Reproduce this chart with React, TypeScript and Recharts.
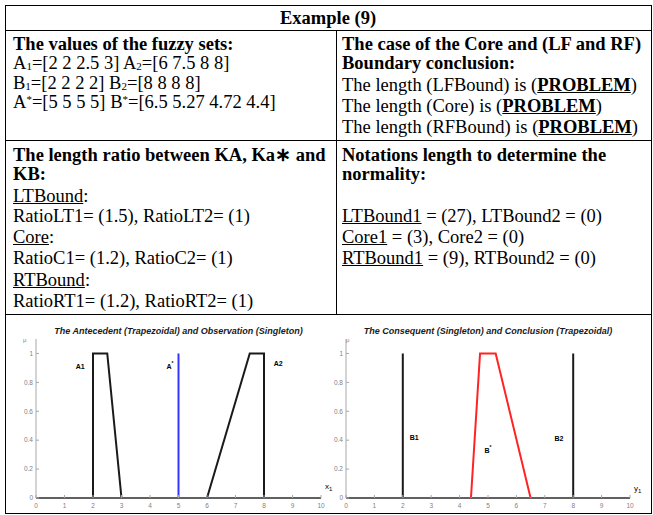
import { LineChart, Line, XAxis, YAxis, ReferenceDot } from 'recharts';

const xTicks = [0, 1, 2, 3, 4, 5, 6, 7, 8, 9, 10];
const muTicks = [0, 0.2, 0.4, 0.6, 0.8, 1];

// antecedent sets (x, membership)
const a1X = [0, 2, 2, 2.5, 3, 10];
const a1Mu = [0, 0, 1, 1, 0, 0];
const a2X = [0, 6, 7.5, 8, 8, 10];
const a2Mu = [0, 0, 1, 1, 0, 0];
const aStarX = [5, 5];
const aStarMu = [0, 1];

// consequent sets
const b1X = [0, 2, 2, 2, 10];
const b1Mu = [0, 0, 1, 0, 0];
const b2X = [0, 8, 8, 8, 10];
const b2Mu = [0, 0, 1, 0, 0];
const bStarX = [4.4, 4.72, 5.27, 6.5];
const bStarMu = [0, 1, 1, 0];

// set names: [name, mark, x, mu]
const leftNames: [string, string, number, number][] = [
  ['A1', '', 1.55, 0.91],
  ['A', '*', 4.7, 0.91],
  ['A2', '', 8.5, 0.93],
];
const rightNames: [string, string, number, number][] = [
  ['B1', '', 2.4, 0.42],
  ['B', '*', 5.0, 0.33],
  ['B2', '', 7.5, 0.41],
];

const pts = (xs: number[], ys: number[]) => xs.map((x, i) => ({ x, mu: ys[i] }));

const serif = '"Liberation Serif", "Times New Roman", serif';
const sans = '"Liberation Sans", Arial, sans-serif';
const axisGray = '#a8a8a8';
const tickStyle = { fill: '#7f7f7f', fontSize: 6.5, fontFamily: sans };

function SetName({ viewBox, name, mark }: any) {
  const { x, y } = viewBox;
  return (
    <text x={x} y={y} textAnchor="middle" dominantBaseline="central" fontFamily={sans} fontWeight="bold" fontSize={7} fill="#000">
      {name}
      {mark ? <tspan dy={-3} fontSize={5}>{mark}</tspan> : null}
    </text>
  );
}

function FuzzyChart({ width, yWidth, right, series, names }: any) {
  return (
    <LineChart width={width} height={199} margin={{ top: 25, right, bottom: 0, left: 0 }}>
      <XAxis xAxisId="b" type="number" dataKey="x" domain={[0, 10]} ticks={xTicks} interval={0} height={15}
        tickSize={-3} tickMargin={8} stroke={axisGray} tick={tickStyle} />
      <XAxis xAxisId="t" orientation="top" type="number" dataKey="x" domain={[0, 10]} ticks={xTicks} interval={0}
        height={0} tickSize={-3} tick={false} stroke={axisGray} />
      <YAxis yAxisId="l" type="number" domain={[0, 1.1]} ticks={muTicks} interval={0} width={yWidth}
        tickSize={-3} tickMargin={6} stroke={axisGray} tick={tickStyle} />
      <YAxis yAxisId="r" orientation="right" type="number" domain={[0, 1.1]} ticks={muTicks} interval={0} width={0}
        tickSize={-3} tick={false} stroke={axisGray} />
      {series.map((s: any, i: number) => (
        <Line key={i} xAxisId="b" yAxisId="l" data={s.data} dataKey="mu" type="linear" stroke={s.color}
          strokeWidth={2} dot={false} isAnimationActive={false} />
      ))}
      {names.map(([name, mark, x, mu]: any) => (
        <ReferenceDot key={name + mark} xAxisId="b" yAxisId="l" x={x} y={mu} r={0} fill="none" stroke="none"
          label={{ content: (p: any) => <SetName {...p} name={name} mark={mark} /> }} />
      ))}
    </LineChart>
  );
}

const abs = (style: any) => ({ position: 'absolute' as const, ...style });
const sub = { fontSize: 11, verticalAlign: '-1px', lineHeight: 0 };
const sup = { fontSize: 11, verticalAlign: '5px', lineHeight: 0 };
const u = { textDecoration: 'underline' };
const bu = { fontWeight: 'bold', textDecoration: 'underline' };

function Row({ left, top, bold, children }: any) {
  return (
    <div style={abs({ left, top, height: 20, whiteSpace: 'nowrap', fontWeight: bold ? 'bold' : 'normal' })}>{children}</div>
  );
}

export default function App() {
  return (
    <div style={abs({ left: 0, top: 0, width: 653, height: 515, background: '#fff', fontFamily: serif, fontSize: 18.5, lineHeight: '20px', color: '#000' })}>
      {/* charts */}
      <div style={abs({ left: 5, top: 314 })}>
        <FuzzyChart width={331} yWidth={31} right={15} names={leftNames}
          series={[
            { data: pts(a1X, a1Mu), color: '#1a1a1a' },
            { data: pts(a2X, a2Mu), color: '#1a1a1a' },
            { data: pts(aStarX, aStarMu), color: '#3434ff' },
          ]} />
      </div>
      <div style={abs({ left: 326, top: 314 })}>
        <FuzzyChart width={325} yWidth={20} right={21} names={rightNames}
          series={[
            { data: pts(b1X, b1Mu), color: '#1a1a1a' },
            { data: pts(b2X, b2Mu), color: '#1a1a1a' },
            { data: pts(bStarX, bStarMu), color: '#ff2424' },
          ]} />
      </div>
      <div style={abs({ left: 36, width: 285, top: 326, textAlign: 'center', font: 'italic bold 9px ' + sans, lineHeight: '11px', color: '#1a1a1a', whiteSpace: 'nowrap' })}>
        The Antecedent (Trapezoidal) and Observation (Singleton)
      </div>
      <div style={abs({ left: 346, width: 284, top: 326, textAlign: 'center', font: 'italic bold 9px ' + sans, lineHeight: '11px', color: '#1a1a1a', whiteSpace: 'nowrap' })}>
        The Consequent (Singleton) and Conclusion (Trapezoidal)
      </div>
      <div style={abs({ left: 23, top: 336, font: '6px ' + sans, lineHeight: '8px', color: '#7f7f7f' })}>μ</div>
      <div style={abs({ left: 346, top: 336, font: '6px ' + sans, lineHeight: '8px', color: '#7f7f7f' })}>μ</div>
      <div style={abs({ left: 325, top: 482, font: '8px ' + sans, lineHeight: '10px', color: '#000' })}>x<span style={{ fontSize: 6, verticalAlign: '-2px' }}>1</span></div>
      <div style={abs({ left: 634, top: 484, font: '8px ' + sans, lineHeight: '10px', color: '#000' })}>y<span style={{ fontSize: 6, verticalAlign: '-2px' }}>1</span></div>

      {/* table text */}
      <div style={abs({ left: 5, top: 8, width: 646, textAlign: 'center', fontWeight: 'bold' })}>Example (9)</div>

      <Row left={13} top={34} bold>The values of the fuzzy sets:</Row>
      <Row left={13} top={53}>A<span style={sub}>1</span>=[2 2 2.5 3] A<span style={sub}>2</span>=[6 7.5 8 8]</Row>
      <Row left={13} top={73}>B<span style={sub}>1</span>=[2 2 2 2] B<span style={sub}>2</span>=[8 8 8 8]</Row>
      <Row left={13} top={92}>A<span style={sup}>*</span>=[5 5 5 5] B<span style={sup}>*</span>=[6.5 5.27 4.72 4.4]</Row>

      <Row left={342} top={34} bold>The case of the Core and (LF and RF)</Row>
      <Row left={342} top={53} bold>Boundary conclusion:</Row>
      <Row left={342} top={75}>The length (LFBound) is (<span style={bu}>PROBLEM</span>)</Row>
      <Row left={342} top={96}>The length (Core) is (<span style={bu}>PROBLEM</span>)</Row>
      <Row left={342} top={117}>The length (RFBound) is (<span style={bu}>PROBLEM</span>)</Row>

      <Row left={13} top={145} bold>The length ratio between KA, Ka∗ and</Row>
      <Row left={13} top={164} bold>KB:</Row>
      <Row left={13} top={186}><span style={u}>LTBound</span>:</Row>
      <Row left={13} top={206}>RatioLT1= (1.5), RatioLT2= (1)</Row>
      <Row left={13} top={227}><span style={u}>Core</span>:</Row>
      <Row left={13} top={248}>RatioC1= (1.2), RatioC2= (1)</Row>
      <Row left={13} top={270}><span style={u}>RTBound</span>:</Row>
      <Row left={13} top={291}>RatioRT1= (1.2), RatioRT2= (1)</Row>

      <Row left={342} top={145} bold>Notations length to determine the</Row>
      <Row left={342} top={164} bold>normality:</Row>
      <Row left={342} top={206}><span style={u}>LTBound1</span> = (27), LTBound2 = (0)</Row>
      <Row left={342} top={227}><span style={u}>Core1</span> = (3), Core2 = (0)</Row>
      <Row left={342} top={248}><span style={u}>RTBound1</span> = (9), RTBound2 = (0)</Row>

      {/* table rules */}
      <div style={abs({ left: 5, top: 5, width: 647, height: 509, border: '1px solid #000', boxSizing: 'border-box' })} />
      <div style={abs({ left: 5, top: 30, width: 647, height: 1, background: '#000' })} />
      <div style={abs({ left: 5, top: 140, width: 647, height: 1, background: '#000' })} />
      <div style={abs({ left: 5, top: 314, width: 647, height: 1, background: '#000' })} />
      <div style={abs({ left: 336, top: 30, width: 1, height: 284, background: '#000' })} />
    </div>
  );
}
